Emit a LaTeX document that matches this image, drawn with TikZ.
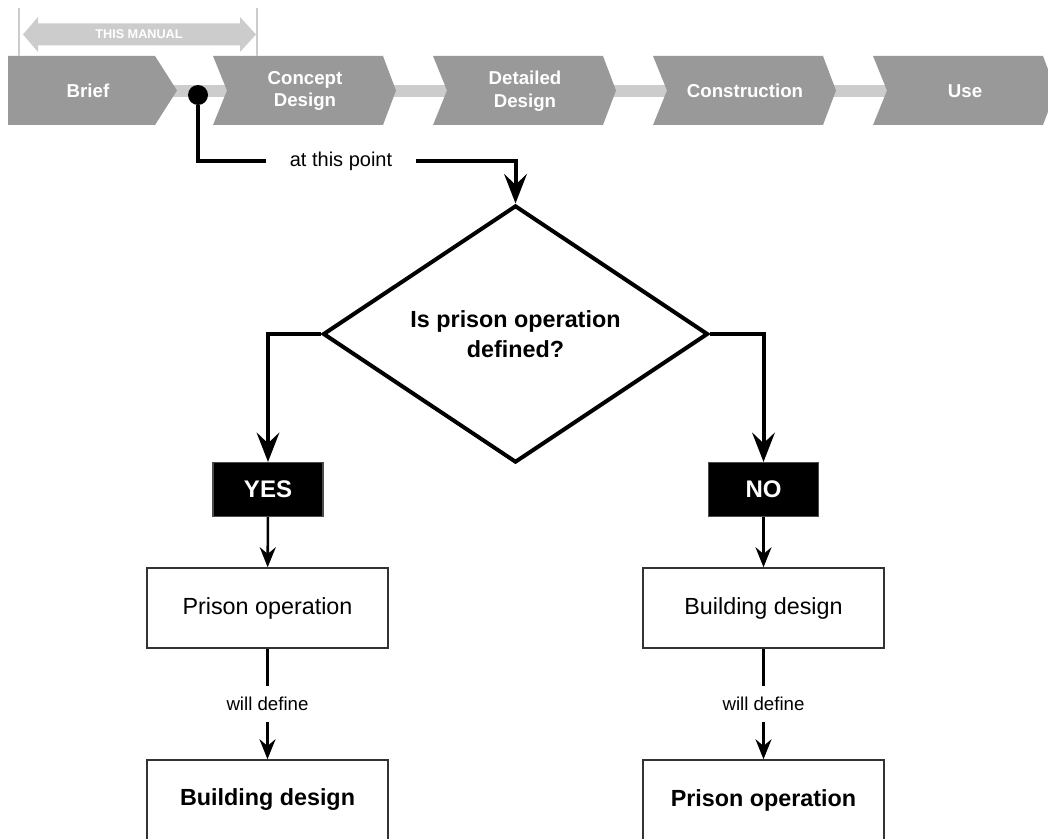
\documentclass[tikz,border=0pt]{standalone}
\usepackage{fontspec}
\setmainfont{Liberation Sans}
\usetikzlibrary{arrows.meta,shapes.geometric}

\definecolor{stagegray}{HTML}{999999}
\definecolor{bargray}{HTML}{CCCCCC}

\begin{document}
\begin{tikzpicture}[x=0.75pt, y=-0.75pt,
  stage/.style={text=white, font=\bfseries\fontsize{14}{17}\selectfont, align=center},
  bigarrow/.style={line width=3pt, -{Stealth[length=22pt,width=17pt,inset=8pt]}},
  smallarrow/.style={line width=1.9pt, -{Stealth[length=15pt,width=12pt,inset=5pt]}},
  answer/.style={fill=black, draw=black!70, line width=0.8pt, text=white, minimum width=82.5pt, minimum height=40.5pt, font=\bfseries\fontsize{18}{20}\selectfont},
  result/.style={draw=black!80, line width=1.1pt, minimum width=180.75pt, minimum height=60pt, font=\fontsize{17.5}{20}\selectfont}
]
\useasboundingbox (0,0) rectangle (1048,838);

% stages along the top
\fill[bargray] (170,85) rectangle (1048,97);
\fill[stagegray] (8,56) -- (155,56) -- (177,90.5) -- (155,125) -- (8,125) -- cycle;
\fill[stagegray] (213,56) -- (383,56) -- (396,90.5) -- (383,125) -- (213,125) -- (227,90.5) -- cycle;
\fill[stagegray] (433,56) -- (603,56) -- (616,90.5) -- (603,125) -- (433,125) -- (447,90.5) -- cycle;
\fill[stagegray] (653,56) -- (823,56) -- (836,90.5) -- (823,125) -- (653,125) -- (667,90.5) -- cycle;
\fill[stagegray] (873,56) -- (1043,56) -- (1056,90.5) -- (1043,125) -- (873,125) -- (887,90.5) -- cycle;
\node[stage] (node_brief) at (88,91) {Brief};
\node[stage] (node_concept) at (305,91) {Concept\\Design};
\node[stage] (node_detailed) at (525,91) {Detailed\\Design};
\node[stage] (node_construction) at (745,91) {Construction};
\node[stage] (node_use) at (965,91) {Use};

% manual span
\draw[bargray, line width=1.5pt] (19,8) -- (19,56) (257,8) -- (257,56);
\fill[bargray] (23,34.5) -- (38,17) -- (38,23.5) -- (240,23.5) -- (240,17) -- (256,34.5)
  -- (240,52) -- (240,45.5) -- (38,45.5) -- (38,52) -- cycle;
\node[text=white, font=\bfseries\fontsize{9.5}{11}\selectfont] (node_manual) at (139,34.5) {THIS MANUAL};

% decision
\node[circle, fill=black, inner sep=0pt, minimum size=15pt] (node_dot) at (198,95) {};
\node[inner xsep=18pt, font=\fontsize{15}{18}\selectfont] (node_point) at (341,161) {at this point};
\node[draw, diamond, line width=3pt, inner sep=0pt, minimum width=288.75pt, minimum height=192pt,
  align=center, font=\bfseries\fontsize{17.5}{22.5}\selectfont] (node_q) at (515.5,334) {Is prison operation\\defined?};
\draw[line width=3pt] (node_dot) |- (node_point);
\draw[bigarrow] (node_point) -| (node_q);

\node[answer] (node_yes) at (268,489.5) {YES};
\node[answer] (node_no) at (763.5,489.5) {NO};
\draw[bigarrow] (node_q.west) -| (node_yes);
\draw[bigarrow] (node_q.east) -| (node_no);

\node[result] (node_op1) at (267.5,608) {Prison operation};
\node[result] (node_bd1) at (763.5,608) {Building design};
\draw[smallarrow] (node_yes) -- (node_op1);
\draw[smallarrow] (node_no) -- (node_bd1);

\node[inner ysep=8pt, font=\fontsize{14}{16}\selectfont] (node_def1) at (267.5,704) {will define};
\node[inner ysep=8pt, font=\fontsize{14}{16}\selectfont] (node_def2) at (763.5,704) {will define};
\draw[line width=1.9pt] (node_op1) -- (node_def1);
\draw[line width=1.9pt] (node_bd1) -- (node_def2);

\node[result, font=\bfseries\fontsize{17.5}{20}\selectfont] (node_bd2) at (267.5,800) {Building design};
\node[result, font=\bfseries\fontsize{17.5}{20}\selectfont] (node_op2) at (763.5,800) {Prison operation};
\draw[smallarrow] (node_def1) -- (node_bd2);
\draw[smallarrow] (node_def2) -- (node_op2);

\end{tikzpicture}
\end{document}
